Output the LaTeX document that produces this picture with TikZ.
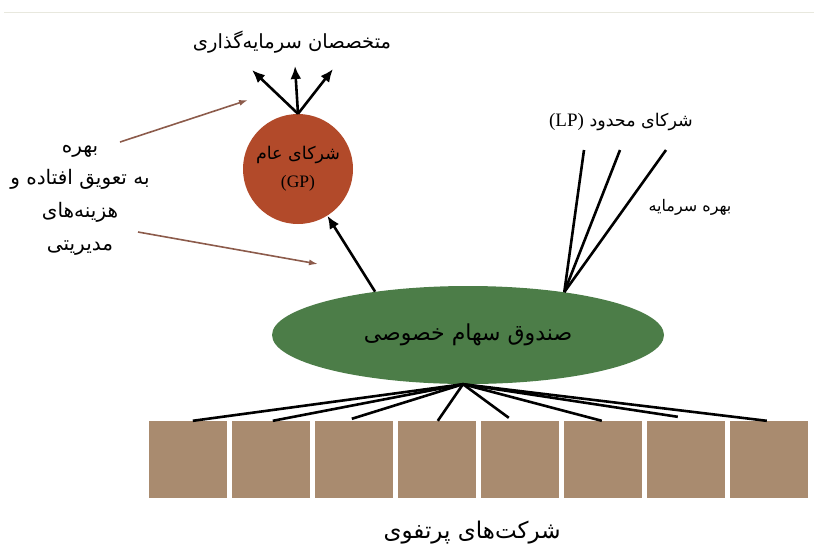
\documentclass[tikz,border=0pt]{standalone}
\usepackage{fontspec}
\usepackage{tikz}
\usetikzlibrary{arrows.meta,calc,shapes.geometric}
\TeXXeTstate=1
\newfontfamily\arabicfont[Script=Arabic]{DejaVu Sans}
\newfontfamily\latinfont{Liberation Serif}
\definecolor{gpred}{RGB}{178,74,42}
\definecolor{fundgreen}{RGB}{76,125,72}
\definecolor{boxbrown}{RGB}{169,139,111}
\definecolor{arrowbrown}{RGB}{140,91,75}
\definecolor{topline}{RGB}{232,232,222}

\begin{document}
\begin{tikzpicture}[x=1pt,y=-1pt,
  fatxt/.style={font=\arabicfont\fontsize{20}{32.7}\selectfont, inner sep=0pt, align=center},
  blk/.style={draw=black, line width=2.6pt},
  blkarrow/.style={blk, -{Latex[length=13pt,width=11pt]}},
  brnarrow/.style={draw=arrowbrown, line width=1.6pt, -{Latex[length=9pt,width=6pt]}},
  company/.style={rectangle, fill=boxbrown, minimum width=78pt, minimum height=77pt, inner sep=0pt}]

\useasboundingbox (0,0) rectangle (814,550);
\draw[topline, line width=1pt] (4,12) -- (814,12);

\node[fatxt, font=\arabicfont\fontsize{19.5}{22}\selectfont] (experts) at (292,42) {\beginR متخصصان سرمایه‌گذاری\endR};

\node[circle, fill=gpred, minimum size=110pt, inner sep=0pt] (gp) at (298,169) {};
\node[fatxt, font=\arabicfont\fontsize{17.5}{28}\selectfont] (gpname) at (298,169)
  {\beginR شرکای عام\endR\\{\latinfont\fontsize{17.5}{28}\selectfont (GP)}};

\node[ellipse, fill=fundgreen, minimum width=392pt, minimum height=98pt, inner sep=0pt,
  font=\arabicfont\fontsize{22}{26}\selectfont] (fund) at (468,335) {\beginR صندوق سهام خصوصی\endR};

\foreach \i in {1,...,8}
  \node[company] (b\i) at ({188+(\i-1)*83},459.5) {};

\node[fatxt, font=\arabicfont\fontsize{23}{26}\selectfont] (portfolio) at (472,533) {\beginR شرکت‌های پرتفوی\endR};

\node[fatxt] (fees) at (80,200)
  {\beginR بهره\endR\\\beginR به تعویق افتاده و\endR\\\beginR هزینه‌های\endR\\\beginR مدیریتی\endR};

\node[fatxt, font=\arabicfont\fontsize{17.5}{20}\selectfont] (lp) at (621,122)
  {\beginR شرکای محدود {\latinfont\fontsize{19}{20}\selectfont\beginL(LP)\endL}\endR};
\node[fatxt, font=\arabicfont\fontsize{16}{18}\selectfont] (capgain) at (690,207) {\beginR بهره سرمایه\endR};

% fund -> companies
\coordinate (fan) at ([xshift=-5pt]fund.south);
\foreach \i/\dx/\dy in {1/44/0,2/41/0,3/37/-2,4/40/0,5/28/-3,6/38/0,7/31/-4,8/37/0}
  \draw[blk] (fan) -- ($(b\i.north west)+(\dx,\dy)$);

% limited partners
\coordinate (lp1) at (584,150);
\coordinate (lp2) at (620,150);
\coordinate (lp3) at (666,150);
\foreach \t in {lp1,lp2,lp3}
  \draw[blk] (fund.24) -- (\t);

% general partner
\draw[blkarrow] (fund.155) -- (gp);
\coordinate (up1) at (252,70);
\coordinate (up2) at (295,66);
\coordinate (up3) at (333,69);
\foreach \t in {up1,up2,up3}
  \draw[blkarrow] (gp.north) -- (\t);

% fees
\coordinate (fs1) at (120,142);
\coordinate (fe1) at (248,100);
\coordinate (fs2) at (138,232);
\coordinate (fe2) at (318,264);
\draw[brnarrow] (fs1) -- (fe1);
\draw[brnarrow] (fs2) -- (fe2);

\end{tikzpicture}
\end{document}
